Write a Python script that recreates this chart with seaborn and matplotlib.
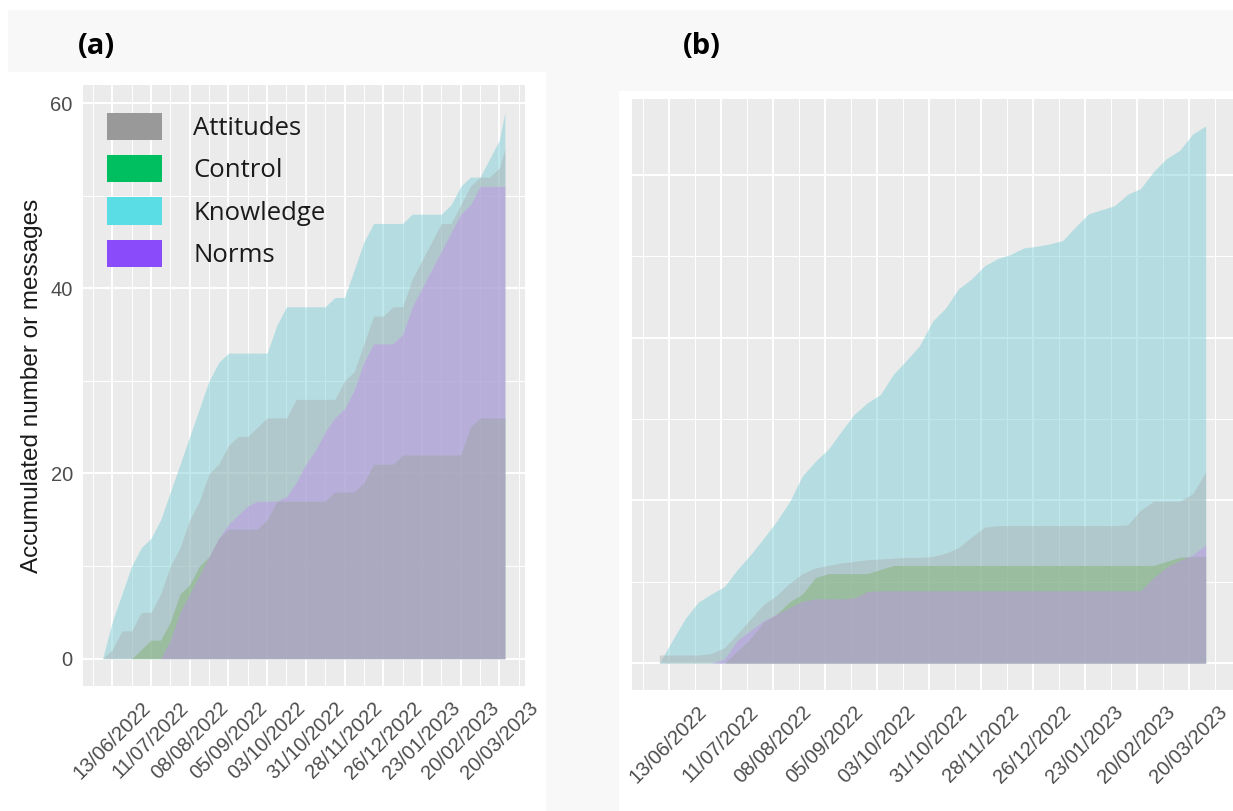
import numpy as np
import pandas as pd
import matplotlib
matplotlib.use("Agg")
import matplotlib.pyplot as plt
import matplotlib.dates as mdates
from matplotlib.patches import Patch, Rectangle
from matplotlib.font_manager import FontProperties
import seaborn as sns

# ------------------------------------------------------------------ data
categories = ["Attitudes", "Control", "Knowledge", "Norms"]
legend_colors = ["#999999", "#00BF60", "#5ADDE5", "#8A4CFA"]
area_colors = ["#AAAAAA", "#7AAE60", "#64C8D2", "#C38BF2"]
draw_order = ["Knowledge", "Attitudes", "Control", "Norms"]

tick_labels = ["13/06/2022", "11/07/2022", "08/08/2022", "05/09/2022",
               "03/10/2022", "31/10/2022", "28/11/2022", "26/12/2022",
               "23/01/2023", "20/02/2023", "20/03/2023"]
y_ticks = [0, 20, 40, 60]
y_minor = [10, 30, 50]

panel_labels = ["(a)", "(b)"]
y_title = "Accumulated number or messages"

# panel (a): weekly readings (Mondays) plus the final day
dates_a = list(pd.date_range("2022-06-06", "2023-03-20", freq="7D")) + [pd.Timestamp("2023-03-24")]
attitudes_a = [0, 1, 3, 3, 5, 5, 7, 10, 12, 15,
               17, 20, 21, 23, 24, 24, 25, 26, 26, 26,
               28, 28, 28, 28, 28, 30, 31, 34, 37, 37,
               38, 38, 41, 43, 45, 47, 47, 49, 51, 52,
               52, 53, 55]
control_a = [0, 0, 0, 0, 1, 2, 2, 4, 7, 8,
             10, 11, 13, 14, 14, 14, 14, 15, 17, 17,
             17, 17, 17, 17, 18, 18, 18, 19, 21, 21,
             21, 22, 22, 22, 22, 22, 22, 22, 25, 26,
             26, 26, 26]
knowledge_a = [0, 4, 7, 10, 12, 13, 15, 18, 21, 24,
               27, 30, 32, 33, 33, 33, 33, 33, 36, 38,
               38, 38, 38, 38, 39, 39, 42, 45, 47, 47,
               47, 47, 48, 48, 48, 48, 49, 51, 52, 52,
               54, 56, 59]
norms_a = [0, 0, 0, 0, 0, 0, 0, 2, 5, 7,
           9, 11, 13, 14.5, 15.5, 16.5, 17, 17, 17, 17.5,
           19, 21, 22.5, 24.5, 26, 27, 29, 32, 34, 34,
           34, 35, 38, 40, 42, 44, 46, 48, 49, 51,
           51, 51, 51]

# panel (b): weekly readings (Wednesdays)
dates_b = list(pd.date_range("2022-06-08", "2023-03-29", freq="7D"))
attitudes_b = [1, 1, 1, 1, 1.2, 1.9, 3.6, 5.4, 7.2, 8.3,
               9.8, 11, 11.7, 12, 12.3, 12.5, 12.7, 12.8, 12.9, 13,
               13, 13.1, 13.5, 14.2, 15.5, 16.7, 16.9, 16.9, 16.9, 16.9,
               16.9, 16.9, 16.9, 16.9, 16.9, 16.9, 17, 18.8, 19.9, 19.9,
               19.9, 20.8, 23.5]
control_b = [0, 0, 0, 0, 0, 0, 1.5, 3, 5, 6,
             7.5, 8.5, 10.5, 11, 11, 11, 11, 11.5, 12, 12,
             12, 12, 12, 12, 12, 12, 12, 12, 12, 12,
             12, 12, 12, 12, 12, 12, 12, 12, 12, 12.5,
             13, 13.1, 13.1]
knowledge_b = [0, 2.8, 5.5, 7.5, 8.5, 9.4, 11.5, 13.3, 15.3, 17.4,
               19.8, 23, 24.8, 26.3, 28.5, 30.6, 32, 33, 35.5, 37.2,
               39, 42, 43.6, 46, 47.2, 48.8, 49.7, 50.2, 51, 51.2,
               51.5, 51.9, 53.6, 55.2, 55.7, 56.2, 57.6, 58.3, 60.4, 62,
               63, 65, 66]
norms_b = [0, 0, 0, 0, 0, 0.5, 2.8, 4, 5.2, 6,
           6.8, 7.6, 7.9, 7.9, 7.9, 8, 8.8, 8.9, 8.9, 8.9,
           8.9, 8.9, 8.9, 8.9, 8.9, 8.9, 8.9, 8.9, 8.9, 8.9,
           8.9, 8.9, 8.9, 8.9, 8.9, 8.9, 8.9, 8.9, 10.5, 11.8,
           12.6, 13.3, 14.5]


def long_frame(dates, series):
    rows = []
    for cat, vals in zip(categories, series):
        for d, v in zip(dates, vals):
            rows.append({"date": pd.Timestamp(d), "category": cat, "value": v})
    return pd.DataFrame(rows)


df_a = long_frame(dates_a, [attitudes_a, control_a, knowledge_a, norms_a])
df_b = long_frame(dates_b, [attitudes_b, control_b, knowledge_b, norms_b])

# ------------------------------------------------------------------ style
sns.set_theme(style="darkgrid", rc={
    "axes.facecolor": "#EBEBEB",
    "grid.color": "white",
    "axes.edgecolor": "none",
})
plt.rcParams["font.family"] = ["Liberation Sans", "DejaVu Sans"]

W, H = 1233, 811
fig = plt.figure(figsize=(W / 100, H / 100), dpi=100)
fig.patch.set_facecolor("#F8F8F8")


def fig_rect(x0, y0, x1, y1, color):
    fig.patches.append(Rectangle((x0 / W, 1 - y1 / H), (x1 - x0) / W, (y1 - y0) / H,
                                 transform=fig.transFigure, facecolor=color,
                                 edgecolor="none", zorder=-10))


fig_rect(0, 0, W, 10, "white")
fig_rect(0, 0, 8, H, "white")
fig_rect(8, 72, 546, H, "white")
fig_rect(619, 91, W, H, "white")

ax_a = fig.add_axes([82.5 / W, 1 - 686 / H, (525 - 82.5) / W, (686 - 85) / H])
ax_b = fig.add_axes([632 / W, 1 - 690 / H, (W - 632) / W, (690 - 99) / H])

color_map = dict(zip(categories, area_colors))
major_dates = pd.to_datetime(tick_labels, dayfirst=True)
minor_dates = list(major_dates - pd.Timedelta(days=14)) + [major_dates[-1] + pd.Timedelta(days=14)]


def draw_panel(ax, df, show_ylabels):
    ax.set_axisbelow(True)
    for cat in draw_order:
        sub = df[df["category"] == cat].sort_values("date")
        ax.fill_between(mdates.date2num(sub["date"]), 0, sub["value"],
                        color=color_map[cat], alpha=0.4, linewidth=0)
    dmin, dmax = df["date"].min(), df["date"].max()
    pad = (dmax - dmin) * 0.05
    ax.set_xlim(mdates.date2num(dmin - pad), mdates.date2num(dmax + pad))
    vmax = df["value"].max()
    ax.set_ylim(-0.05 * vmax, 1.05 * vmax)

    ax.set_xticks(mdates.date2num(major_dates))
    ax.set_xticklabels(tick_labels, rotation=45, ha="center", va="top")
    ax.set_xticks(mdates.date2num(minor_dates), minor=True)
    ax.set_yticks(y_ticks)
    ax.set_yticks(y_minor, minor=True)
    if show_ylabels:
        ax.set_yticklabels([str(t) for t in y_ticks])
    else:
        ax.set_yticklabels([""] * len(y_ticks))

    ax.grid(which="major", color="white", linewidth=1.4)
    ax.grid(which="minor", color="white", linewidth=0.7)
    ax.tick_params(which="minor", length=0)
    ax.tick_params(which="major", length=4, width=1.1, color="#333333",
                   labelcolor="#4D4D4D", labelsize=14.5, pad=3)
    ax.tick_params(axis="x", which="major", pad=5)
    for s in ax.spines.values():
        s.set_visible(False)


draw_panel(ax_a, df_a, True)
draw_panel(ax_b, df_b, False)

ax_a.set_ylabel(y_title, fontsize=17.5, color="#1A1A1A")
ax_a.yaxis.set_label_coords(-0.09, 0.5)

handles = [Patch(facecolor=c, edgecolor="none", label=l) for l, c in zip(categories, legend_colors)]
leg = ax_a.legend(handles=handles, loc="upper left", bbox_to_anchor=(0.0554, 0.954),
                  frameon=False, prop=FontProperties(family="Open Sans", size=18.5),
                  handlelength=2.15, handleheight=1.25, handletextpad=1.2,
                  labelspacing=0.55, borderpad=0, borderaxespad=0)
for t in leg.get_texts():
    t.set_color("#1A1A1A")

fig.text(78 / W, 1 - 46 / H, panel_labels[0], fontsize=21, fontweight="bold",
         family="Open Sans", va="center", ha="left", color="black")
fig.text(683 / W, 1 - 46 / H, panel_labels[1], fontsize=21, fontweight="bold",
         family="Open Sans", va="center", ha="left", color="black")

fig.savefig("out.png", dpi=100, facecolor=fig.get_facecolor())
